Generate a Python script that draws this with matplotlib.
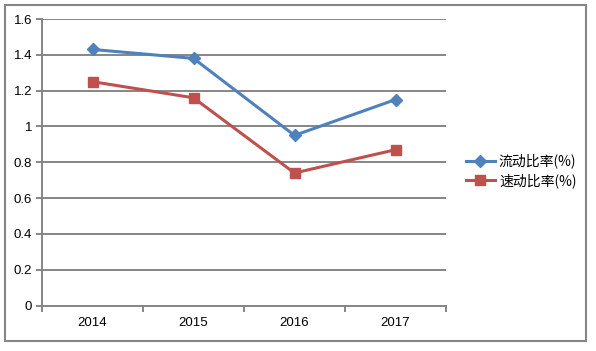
import matplotlib
matplotlib.use("Agg")
import matplotlib.pyplot as plt
import matplotlib.patches as patches

# data
jaren = ['2014', '2015', '2016', '2017']
liudong = [1.43, 1.38, 0.95, 1.15]
sudong = [1.25, 1.16, 0.74, 0.87]
namen = ['流动比率(%)', '速动比率(%)']
yticks = [0, 0.2, 0.4, 0.6, 0.8, 1.0, 1.2, 1.4, 1.6]
ylabels = ['0', '0.2', '0.4', '0.6', '0.8', '1', '1.2', '1.4', '1.6']

plt.rcParams['font.family'] = ['Liberation Sans', 'Noto Sans CJK SC', 'DejaVu Sans']

W, H = 596, 351
fig = plt.figure(figsize=(W / 100, H / 100), dpi=100)

# grijze rand om de hele figuur
rand = patches.Rectangle((5 / W, 1 - 340.5 / H), 581 / W, 336 / H, transform=fig.transFigure,
                         fill=False, edgecolor='#868686', linewidth=1.5)
fig.patches.append(rand)

ax = fig.add_axes([42 / W, 1 - 305.5 / H, 404 / W, 286.5 / H])
x = range(len(jaren))
ax.plot(x, liudong, color='#4F81BD', linewidth=2.2, marker='D', markersize=6.5, label=namen[0])
ax.plot(x, sudong, color='#C0504D', linewidth=2.2, marker='s', markersize=7.5, label=namen[1])

ax.set_xlim(-0.5, 3.5)
ax.set_ylim(0, 1.6)
ax.set_yticks(yticks)
ax.set_yticklabels(ylabels, fontsize=9.5)
ax.set_xticks(list(x))
ax.set_xticklabels(jaren, fontsize=9.5)
ax.set_xticks([-0.5, 0.5, 1.5, 2.5, 3.5], minor=True)
ax.tick_params(axis='x', which='major', length=0, pad=8)
ax.tick_params(axis='x', which='minor', length=4, width=1.4, color='#868686', direction='out')
ax.tick_params(axis='y', length=4, width=1.4, color='#868686', direction='out', pad=3)

ax.grid(axis='y', color='#868686', linewidth=1.4)
ax.set_axisbelow(True)
for s in ['top', 'right']:
    ax.spines[s].set_visible(False)
for s in ['left', 'bottom']:
    ax.spines[s].set_color('#868686')
    ax.spines[s].set_linewidth(1.4)

fig.legend(loc='center left', bbox_to_anchor=(460 / W, 1 - 171 / H), frameon=False,
           prop={'family': ['Noto Sans CJK SC'], 'size': 10}, handlelength=2.1,
           handletextpad=0.3, labelspacing=0.35, borderaxespad=0)

fig.savefig('out.png', dpi=100)
